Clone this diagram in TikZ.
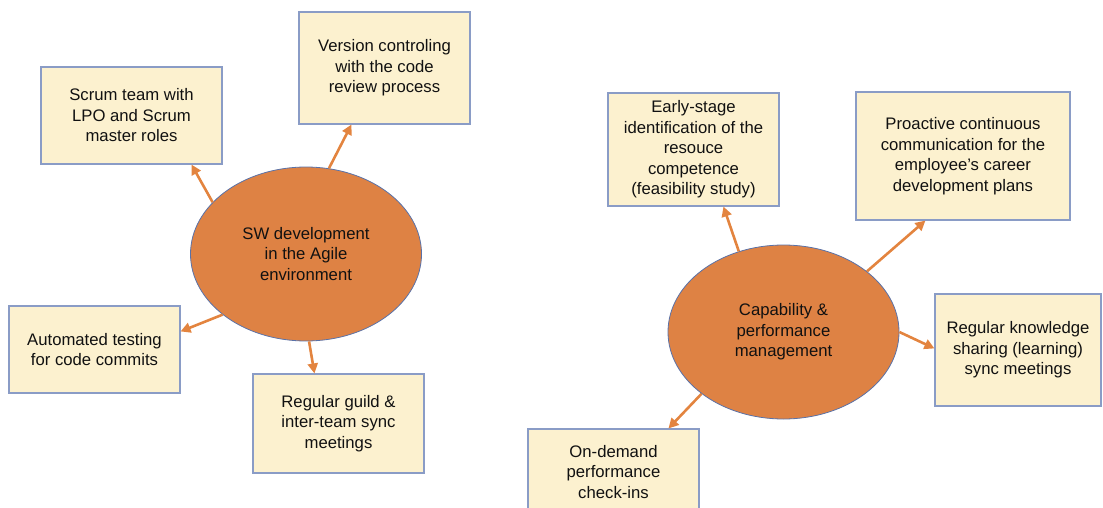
\documentclass[tikz,border=0pt]{standalone}
\usepackage{fontspec}
\setmainfont{Liberation Sans}
\usetikzlibrary{arrows.meta,shapes.geometric}
\definecolor{boxfill}{HTML}{FCF1CF}
\definecolor{boxline}{HTML}{8A9CC6}
\definecolor{hubfill}{HTML}{DE8244}
\definecolor{hubline}{HTML}{5A72A8}
\definecolor{linkcol}{HTML}{E3843F}
\definecolor{ink}{HTML}{111111}
\tikzset{
  item/.style={draw=boxline, line width=1.1pt, fill=boxfill, inner sep=0pt,
    align=center, text=ink, font=\fontsize{16.7}{20.5}\selectfont},
  hub/.style={ellipse, draw=hubline, line width=0.8pt, fill=hubfill,
    minimum width=231pt, minimum height=174pt, inner sep=0pt,
    align=center, text=ink, font=\fontsize{16.7}{20.5}\selectfont},
  link/.style={draw=linkcol, line width=2.6pt,
    -{Triangle[length=10pt,width=10pt]}},
}
\begin{document}
\begin{tikzpicture}[x=1pt,y=-1pt]
\useasboundingbox (0,0) rectangle (1103,508);
\clip (0,0) rectangle (1103,508);

% left group: agile development
\node[hub] (agile) at (306,254) {SW development\\in the Agile\\environment};
\node[item, minimum width=181pt, minimum height=97pt] (scrum) at (131.5,115.5)
  {Scrum team with\\LPO and Scrum\\master roles};
\node[item, minimum width=171pt, minimum height=112pt] (vcs) at (384.5,68)
  {Version controling\\with the code\\review process};
\node[item, minimum width=171pt, minimum height=87pt] (test) at (94.5,349.5)
  {Automated testing\\for code commits};
\node[item, minimum width=171pt, minimum height=99pt] (guild) at (338.5,423.5)
  {Regular guild \&\\inter-team sync\\meetings};

\draw[link] (agile.151.6) -- ([xshift=151pt]scrum.south west);
\draw[link] (agile.75) -- ([xshift=53pt]vcs.south west);
\draw[link] (agile.216.6) -- ([yshift=-26pt]test.north east);
\draw[link] (agile.272) -- ([xshift=62pt]guild.north west);

% right group: capability management
\node[hub] (cap) at (783.5,332) {Capability \&\\performance\\management};
\node[item, minimum width=171pt, minimum height=113pt] (early) at (693.5,149.5)
  {Early-stage\\identification of the\\resouce\\competence\\(feasibility study)};
\node[item, minimum width=214pt, minimum height=128pt] (career) at (963,156)
  {Proactive continuous\\communication for the\\employee's career\\development plans};
\node[item, minimum width=166pt, minimum height=112pt] (know) at (1018,350)
  {Regular knowledge\\sharing (learning)\\sync meetings};
\node[item, minimum width=171pt, minimum height=86pt] (ondemand) at (613.5,472)
  {On-demand\\performance\\check-ins};

\draw[link] (cap.119) -- ([xshift=116pt]early.south west);
\draw[link] (cap.36.5) -- ([xshift=70pt]career.south west);
\draw[link] (cap.0) -- ([yshift=-55pt]know.north west);
\draw[link] (cap.217) -- ([xshift=141pt]ondemand.north west);
\end{tikzpicture}
\end{document}
